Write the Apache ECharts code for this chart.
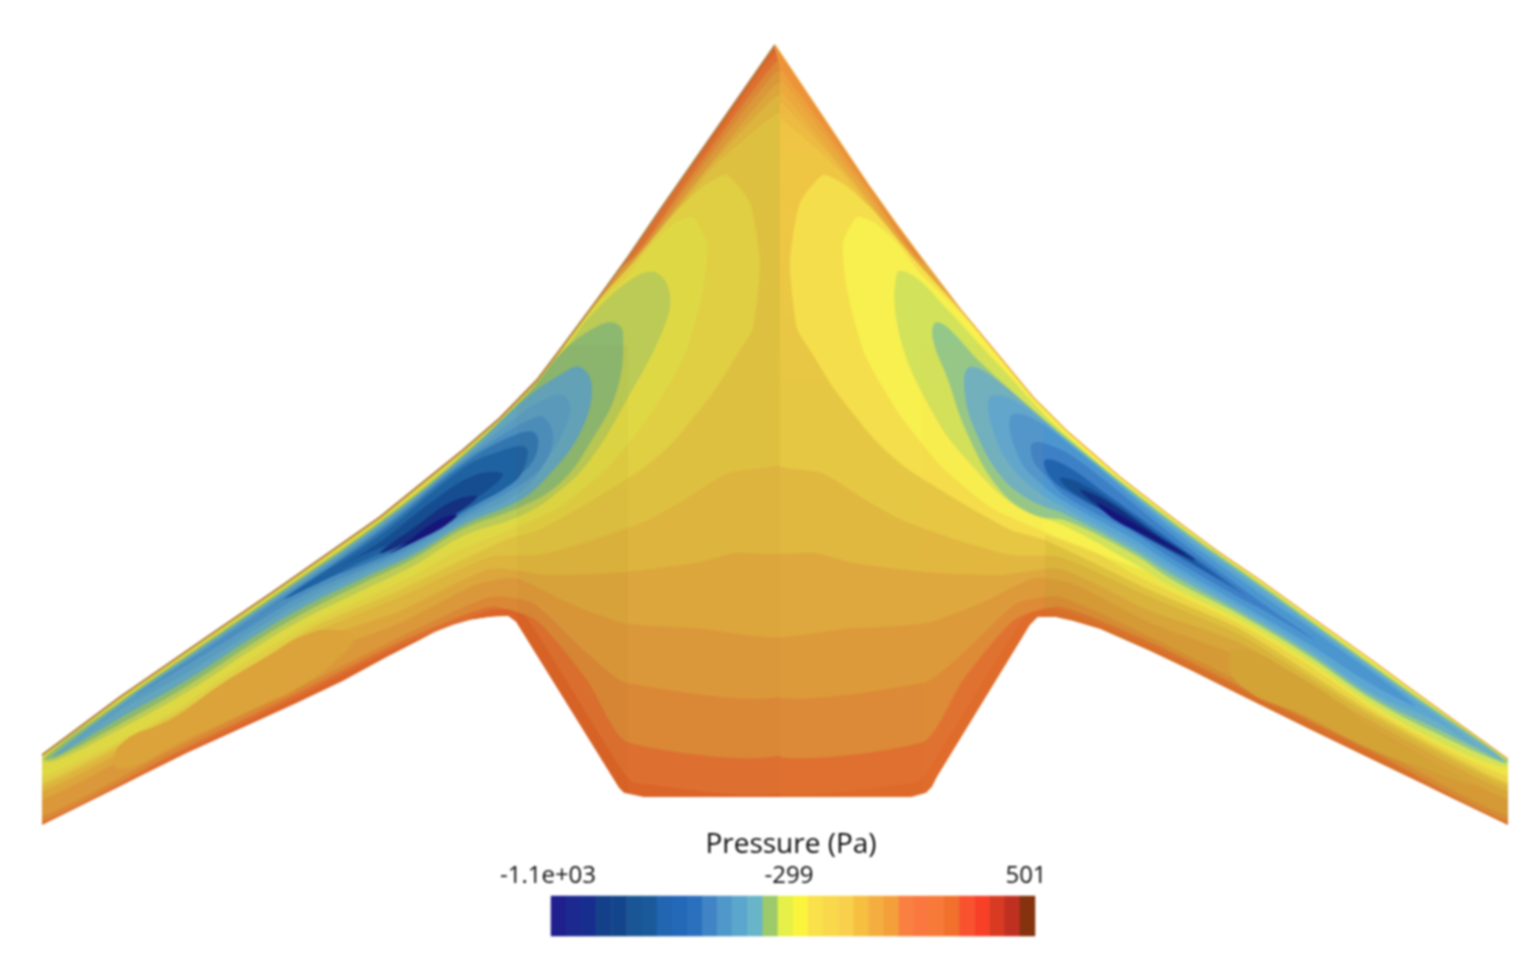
<!DOCTYPE html>
<html><head><meta charset="utf-8">
<style>html,body{margin:0;padding:0;background:#fff}#c{width:1535px;height:968px;filter:blur(0.9px)}</style>
<script src="https://cdn.jsdelivr.net/npm/echarts@6/dist/echarts.min.js"></script>
</head><body><div id="c"></div>
<script>
// Frame: [span from centreline, chord from nose]
const rightEdge=[[0,0],[95,142],[122,180],[148,215],[186,265],[225,312],[258,352],[292,386],[345,432],[398,473],[441,505],[485,535],[532,569],[598,616],[632,641],[683,678],[733,714]];
const rightTrail=[[733,780],[598,715],[532,683],[465,650],[415,625],[375,606],[350,595],[325,584],[298,576],[280,572],[263,572],[255,580],[162,732],[157,742],[151,748],[137,752]];
const leftTrail=[[-132,752],[-151,748],[-156,743],[-161,735],[-259,577],[-267,571],[-285,572],[-305,575],[-322,580],[-340,587],[-355,595],[-388,612],[-432,636],[-478,658],[-588,708],[-733,780]];
const leftEdge=[[-733,710],[-655,652],[-568,592],[-495,542],[-445,507],[-395,472],[-353,438],[-312,405],[-275,373],[-238,335],[-213,302],[-178,255],[-147,212],[-115,165],[0,0]];

// Pressure-level contours of the right half; the left half shares them mirrored
const level1=[[-20,738],[140,738],[152,727],[248,573],[262,565],[285,566],[375,601],[465,646],[598,711],[745,783],[750,700],[100,142],[0,8],[-20,8]];
const level2=[[-20,700],[148,697],[188,635],[239,575],[285,562],[375,597],[465,642],[598,707],[745,779],[750,700],[145,215],[92,142],[0,18],[-20,18]];
const level3=[[-20,642],[148,638],[188,608],[242,558],[285,552],[375,592],[465,637],[598,702],[745,774],[750,700],[144,215],[88,142],[0,28],[-20,28]];
const level4=[[-20,585],[79,583],[151,578],[206,558],[260,533],[300,540],[375,578],[465,612],[598,684],[745,758],[750,700],[222,312],[140,215],[80,138],[0,40],[-20,40]];
const level5=[[-20,503],[40,508],[79,518],[151,527],[224,530],[285,524],[375,566],[465,598],[598,677],[745,750],[750,700],[220,312],[136,215],[74,132],[0,52],[-20,52]];
const level6=[[-20,412],[47,428],[91,455],[127,475],[182,495],[236,510],[285,512],[375,552],[465,590],[598,672],[745,745],[750,700],[218,310],[130,210],[64,125],[0,70],[-20,70]];
const lobeOuter=[[48,130],[25,158],[15,218],[22,283],[35,305],[60,345],[100,395],[130,422],[182,455],[236,485],[270,495],[375,545],[465,584],[598,668],[745,742],[750,700],[640,640],[405,470],[300,385],[226,308],[140,215],[98,165],[70,140]];
const lobeInner=[[82,172],[68,198],[72,245],[90,310],[125,370],[165,420],[215,462],[265,485],[320,507],[360,530],[398,548],[465,579],[532,619],[598,664],[665,701],[745,735],[750,705],[640,642],[405,474],[297,388],[226,310],[180,262],[145,228],[122,198],[100,178]];
const noseGlow=[[0,0],[270,0],[270,350],[0,350]];
const rootDull=[[270,490],[465,560],[745,720],[745,790],[270,640]];

// High-pressure pockets behind the suction band
const pocketR=[[455,610],[472,605],[518,628],[565,658],[598,684],[648,712],[698,740],[650,724],[598,705],[532,672],[465,640]];
const pocketL=[[-440,585],[-422,592],[-428,605],[-472,640],[-522,664],[-588,694],[-655,724],[-655,700],[-600,672],[-555,640],[-505,610],[-470,590]];

// Suction-peak contours, right half, outermost to core
const sucR1=[[122,228],[140,232],[172,264],[222,318],[292,391],[398,475],[485,537],[532,571],[632,643],[735,716],[728,722],[665,697],[598,660],[532,615],[465,575],[398,542],[358,518],[292,482],[242,462],[192,415],[158,368],[125,292]];
const sucR2=[[160,278],[172,282],[208,320],[292,393],[398,477],[485,539],[532,573],[632,645],[733,716],[728,718],[665,690],[598,655],[532,610],[465,570],[398,535],[360,510],[292,476],[260,470],[225,445],[192,388],[172,332],[158,295]];
const sucR3=[[193,323],[215,330],[292,395],[398,479],[485,541],[532,575],[632,647],[728,715],[665,685],[598,652],[532,607],[465,567],[398,530],[358,505],[292,470],[255,455],[225,430],[200,385],[190,350]];
const sucR4=[[215,352],[240,356],[295,398],[400,483],[487,545],[535,579],[630,648],[700,700],[660,676],[598,648],[532,603],[465,563],[398,525],[358,500],[292,464],[262,446],[235,420],[218,385]];
const sucR5=[[235,372],[255,372],[300,404],[402,488],[490,552],[535,583],[640,660],[598,640],[532,598],[465,559],[398,520],[358,494],[292,458],[265,438],[245,415]];
const sucR6=[[258,398],[280,402],[310,420],[405,496],[490,560],[540,595],[490,566],[465,553],[398,514],[358,488],[292,452],[270,430],[258,415]];
const sucR7=[[270,415],[290,420],[330,448],[405,502],[490,565],[465,547],[398,508],[358,482],[295,448],[275,432]];
const sucR8=[[285,433],[305,438],[345,462],[400,503],[445,535],[398,505],[340,472],[295,445]];
const sucR9=[[305,445],[330,455],[375,485],[420,515],[385,500],[340,473]];
const sucR10=[[322,458],[345,470],[395,500],[410,510],[375,492],[340,475]];

// Suction-peak contours, left half
const sucL1=[[-118,228],[-140,232],[-182,268],[-207,300],[-238,339],[-312,409],[-395,476],[-495,546],[-568,596],[-655,656],[-733,714],[-720,716],[-655,684],[-588,647],[-522,604],[-475,576],[-412,545],[-362,521],[-312,491],[-255,471],[-218,448],[-185,415],[-150,358],[-112,285],[-105,250]];
const sucL2=[[-160,278],[-175,280],[-210,304],[-245,346],[-312,410],[-395,477],[-495,547],[-568,597],[-655,657],[-730,713],[-720,713],[-655,679],[-588,641],[-522,598],[-475,570],[-412,538],[-362,514],[-312,484],[-255,462],[-215,438],[-185,398],[-158,345],[-152,288]];
const sucL3=[[-195,322],[-215,330],[-250,354],[-312,412],[-395,479],[-495,549],[-568,599],[-655,659],[-722,712],[-655,673],[-588,635],[-522,592],[-475,564],[-412,533],[-362,510],[-312,480],[-255,455],[-228,432],[-195,388],[-183,342]];
const sucL4=[[-212,350],[-232,355],[-258,372],[-312,414],[-395,481],[-495,551],[-568,601],[-655,661],[-700,697],[-655,665],[-588,628],[-522,586],[-475,558],[-412,528],[-362,506],[-312,476],[-255,447],[-228,415],[-205,368]];
const sucL5=[[-232,372],[-248,376],[-265,385],[-312,416],[-395,483],[-495,553],[-568,603],[-640,650],[-588,620],[-522,580],[-475,552],[-412,524],[-362,502],[-312,472],[-255,440],[-232,420],[-222,392]];
const sucL6=[[-240,388],[-265,392],[-312,419],[-395,486],[-495,556],[-515,570],[-475,545],[-412,520],[-362,498],[-312,468],[-262,435],[-240,412]];
const sucL7=[[-250,402],[-280,408],[-312,423],[-395,490],[-490,553],[-450,535],[-412,516],[-362,495],[-312,466],[-262,438],[-250,420]];
const sucL8=[[-272,430],[-300,430],[-345,458],[-395,497],[-435,522],[-412,510],[-362,490],[-312,462]];
const sucL9=[[-298,452],[-322,456],[-360,482],[-395,508],[-365,496],[-330,476]];
const sucL10=[[-318,470],[-338,476],[-372,500],[-385,508],[-355,494],[-332,482]];

const facetLeft=[[-258,300],[-147,300],[-147,760],[-258,760]];
const facetRight=[[147,300],[268,300],[268,760],[147,760]];

const warmLevels=[level1,level2,level3,level4,level5,level6];
const lobes=[lobeOuter,lobeInner];
const warmLeftColors=['#DD7030','#DA8836','#DB983A','#DCA63C','#DDB43E','#DEC040'];
const warmRightColors=['#DF7030','#DC8A37','#DC9A3A','#DEA83E','#E0B840','#E6C744'];
const lobeLeftColors=['#E0CE43','#DFD845'];
const lobeRightColors=['#F5DE4B','#F7F04F'];
const sucLeft=[sucL1,sucL2,sucL3,sucL4,sucL5,sucL6,sucL7,sucL8,sucL9,sucL10];
const sucRight=[sucR1,sucR2,sucR3,sucR4,sucR5,sucR6,sucR7,sucR8,sucR9,sucR10];
const sucLeftColors=['#BBCB55','#8DB870','#63A5BC','#5A9CC0','#4C8FBF','#3276B0','#1F62A2','#164D90','#14307F','#15157A'];
const sucRightColors=['#D2E25A','#93C88A','#6DB0C2','#5CA6D2','#4C96D0','#3D80C6','#2263AD','#164F93','#132F80','#14157A'];

// Colour bar
const barPressure=[-1075,-1025,-975,-925,-875,-825,-775,-725,-675,-625,-575,-525,-475,-425,-375,-325,-275,-225,-175,-125,-75,-25,25,76,126,176,226,276,326,376,426,476];
const barColors=['#1F1F8E','#1C2A90','#182E8E','#134088','#12458A','#1A5596','#1A5A9A','#2265B0','#2468B8','#2A70BC','#4084C6','#4F98CA','#5AA6CC','#68B4C8','#9CCA6A','#E8F048','#FAF43C','#FAE04A','#F9D84C','#F8D04C','#F6BF40','#F4AE40','#F4A03A','#F98040','#FA7840','#F87A38','#F0702C','#F8522E','#F84028','#D83A22','#C03020','#85320E'];
const barTitle='Pressure (Pa)';
const barTicks=['-1.1e+03','-299','501'];

const clipRight=rightEdge.concat(rightTrail,[[5,752],[5,25]]);
const clipLeft=[[5,752]].concat(leftTrail,leftEdge,[[5,25]]);
const mirror=pts=>pts.map(p=>[-p[0],p[1]]);
const bands=[];
bands.push({pts:clipLeft,color:'#DB6428',clip:clipLeft,smooth:0});
warmLevels.forEach((l,i)=>bands.push({pts:mirror(l),color:warmLeftColors[i],clip:clipLeft,smooth:.2}));
lobes.forEach((l,i)=>bands.push({pts:mirror(l),color:lobeLeftColors[i],clip:clipLeft,smooth:.2}));
bands.push({pts:pocketL,color:'#DBA339',clip:clipLeft,smooth:.5});
sucLeft.forEach((l,i)=>bands.push({pts:l,color:sucLeftColors[i],clip:clipLeft,smooth:.4}));
bands.push({pts:clipRight,color:'#DE6A2A',clip:clipRight,smooth:0});
warmLevels.forEach((l,i)=>bands.push({pts:l,color:warmRightColors[i],clip:clipRight,smooth:.2}));
bands.push({pts:noseGlow,glow:true,clip:clipRight,smooth:0});
lobes.forEach((l,i)=>bands.push({pts:l,color:lobeRightColors[i],clip:clipRight,smooth:.2}));
bands.push({pts:pocketR,color:'#DAA63A',clip:clipRight,smooth:.5});
bands.push({pts:rootDull,color:'rgba(170,150,30,0.13)',clip:clipRight,smooth:0});
sucRight.forEach((l,i)=>bands.push({pts:l,color:sucRightColors[i],clip:clipRight,smooth:.4}));
bands.push({pts:facetLeft,color:'rgba(90,70,0,0.03)',clip:clipLeft,smooth:0});
bands.push({pts:facetRight,color:'rgba(255,190,70,0.04)',clip:clipRight,smooth:0});

const glowFill=new echarts.graphic.LinearGradient(0,0,0,1,[{offset:0,color:'rgba(255,185,65,0.5)'},{offset:.55,color:'rgba(255,200,70,0.3)'},{offset:1,color:'rgba(255,200,70,0)'}]);
const chart=echarts.init(document.getElementById('c'),null,{renderer:'canvas'});
const project=(api,pts)=>pts.map(p=>api.coord(p));
const label=(text,x,y,size)=>({text,left:x,top:y,padding:0,textAlign:'center',textVerticalAlign:'middle',textStyle:{fontFamily:'Open Sans',fontSize:size,fontWeight:'normal',color:'#0c0c0c'}});
chart.setOption({
  animation:false,backgroundColor:'#fff',
  title:[label(barTitle,791,845,28),label(barTicks[0],548,876,24),label(barTicks[1],789,876,24),label(barTicks[2],1026,876,24)],
  grid:[{left:0,right:0,top:0,bottom:0},{left:551,top:896,width:484,height:40}],
  xAxis:[{type:'value',min:-775,max:760,show:false,gridIndex:0},
         {type:'category',data:barPressure,show:false,gridIndex:1}],
  yAxis:[{type:'value',min:-45,max:923,inverse:true,show:false,gridIndex:0},
         {type:'category',data:['p'],show:false,gridIndex:1}],
  visualMap:{show:false,seriesIndex:2,min:barPressure[0],max:barPressure[barPressure.length-1],inRange:{color:barColors}},
  series:[
    {type:'custom',xAxisIndex:0,yAxisIndex:0,silent:true,clip:false,data:bands.map((b,i)=>[i]),
     renderItem(params,api){
       const b=bands[api.value(0)];
       return {type:'polygon',shape:{points:project(api,b.pts),smooth:b.smooth},style:{fill:b.glow?glowFill:b.color},
               clipPath:{type:'polygon',shape:{points:project(api,b.clip)}}};
     }},
    {type:'custom',xAxisIndex:0,yAxisIndex:0,silent:true,clip:false,data:[[0],[1]],
     renderItem(params,api){
       const i=api.value(0);
       return {type:'polyline',shape:{points:project(api,i?rightEdge:leftEdge)},
               style:{fill:null,stroke:i?'#E9A63C':'#B07E42',lineWidth:i?1.3:2}};
     }},
    {type:'heatmap',xAxisIndex:1,yAxisIndex:1,silent:true,data:barPressure.map((v,i)=>[i,0,v]),itemStyle:{borderWidth:0}}
  ]
});
</script></body></html>
